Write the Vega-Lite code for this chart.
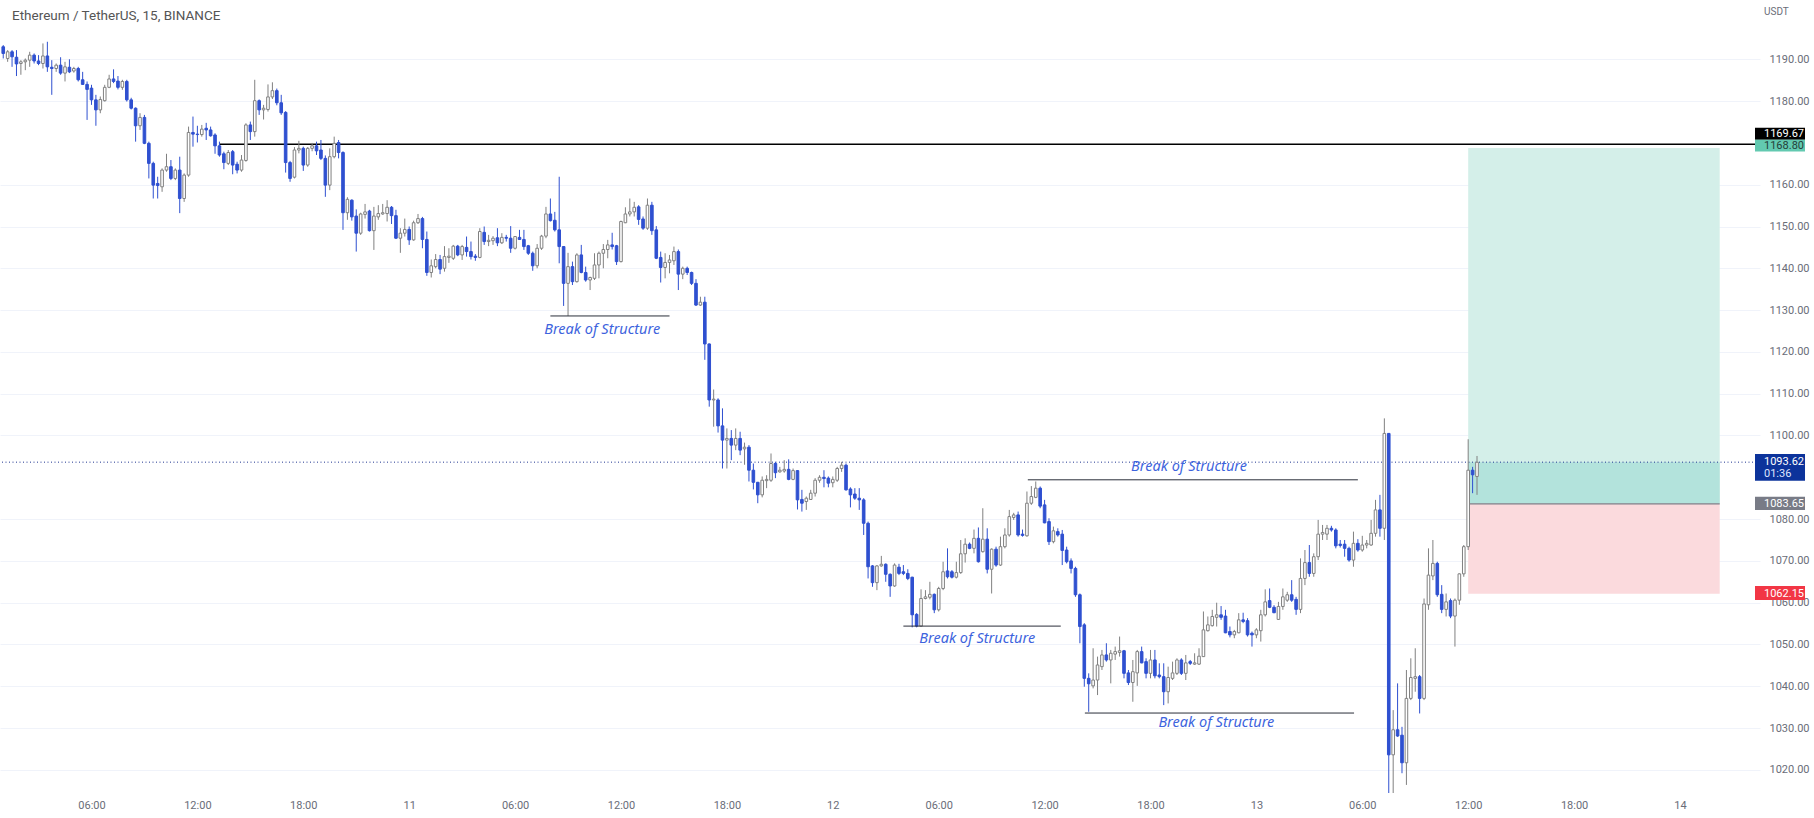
{
"$schema": "https://vega.github.io/schema/vega-lite/v6.json",
"width": 1760, "height": 793,
"autosize": {"type": "none"},
"padding": {"left": 0, "top": 0, "right": 54, "bottom": 25},
"background": "#ffffff",
"config": {"view": {"stroke": null}, "font": "Roboto"},
"datasets": {
"candles": [
{"t":"2022-07-10T01:00:00Z","o":1193.0,"h":1193.4,"l":1190.2,"c":1191.4},
{"t":"2022-07-10T01:15:00Z","o":1190.2,"h":1192.2,"l":1189.4,"c":1191.8},
{"t":"2022-07-10T01:30:00Z","o":1191.8,"h":1192.2,"l":1188.2,"c":1190.6},
{"t":"2022-07-10T01:45:00Z","o":1190.5,"h":1192.2,"l":1186.0,"c":1188.9},
{"t":"2022-07-10T02:00:00Z","o":1189.0,"h":1189.8,"l":1186.3,"c":1189.4},
{"t":"2022-07-10T02:15:00Z","o":1189.4,"h":1190.2,"l":1187.4,"c":1189.8},
{"t":"2022-07-10T02:30:00Z","o":1189.8,"h":1191.8,"l":1188.2,"c":1191.0},
{"t":"2022-07-10T02:45:00Z","o":1191.0,"h":1191.4,"l":1189.0,"c":1189.6},
{"t":"2022-07-10T03:00:00Z","o":1189.6,"h":1191.0,"l":1188.6,"c":1189.0},
{"t":"2022-07-10T03:15:00Z","o":1189.0,"h":1193.8,"l":1187.8,"c":1190.8},
{"t":"2022-07-10T03:30:00Z","o":1190.8,"h":1194.2,"l":1187.0,"c":1188.2},
{"t":"2022-07-10T03:45:00Z","o":1188.1,"h":1189.8,"l":1181.5,"c":1187.8},
{"t":"2022-07-10T04:00:00Z","o":1187.8,"h":1189.0,"l":1187.0,"c":1188.6},
{"t":"2022-07-10T04:15:00Z","o":1188.6,"h":1190.5,"l":1186.3,"c":1186.7},
{"t":"2022-07-10T04:30:00Z","o":1186.7,"h":1189.4,"l":1184.7,"c":1188.2},
{"t":"2022-07-10T04:45:00Z","o":1188.1,"h":1190.0,"l":1186.7,"c":1187.0},
{"t":"2022-07-10T05:00:00Z","o":1187.2,"h":1188.2,"l":1186.8,"c":1187.8},
{"t":"2022-07-10T05:15:00Z","o":1187.8,"h":1188.2,"l":1184.7,"c":1185.1},
{"t":"2022-07-10T05:30:00Z","o":1185.1,"h":1187.0,"l":1183.9,"c":1184.0},
{"t":"2022-07-10T05:45:00Z","o":1184.0,"h":1184.7,"l":1175.5,"c":1182.8},
{"t":"2022-07-10T06:00:00Z","o":1183.1,"h":1183.9,"l":1179.1,"c":1180.3},
{"t":"2022-07-10T06:15:00Z","o":1180.3,"h":1181.5,"l":1174.1,"c":1177.9},
{"t":"2022-07-10T06:30:00Z","o":1177.9,"h":1181.1,"l":1177.1,"c":1180.4},
{"t":"2022-07-10T06:45:00Z","o":1180.1,"h":1183.9,"l":1179.9,"c":1183.3},
{"t":"2022-07-10T07:00:00Z","o":1183.3,"h":1186.3,"l":1183.1,"c":1185.3},
{"t":"2022-07-10T07:15:00Z","o":1185.3,"h":1187.6,"l":1184.3,"c":1184.7},
{"t":"2022-07-10T07:30:00Z","o":1184.8,"h":1186.0,"l":1182.8,"c":1183.3},
{"t":"2022-07-10T07:45:00Z","o":1183.3,"h":1185.1,"l":1182.7,"c":1184.7},
{"t":"2022-07-10T08:00:00Z","o":1184.7,"h":1185.1,"l":1179.9,"c":1180.3},
{"t":"2022-07-10T08:15:00Z","o":1180.3,"h":1180.8,"l":1178.0,"c":1178.3},
{"t":"2022-07-10T08:30:00Z","o":1178.3,"h":1178.5,"l":1170.3,"c":1174.1},
{"t":"2022-07-10T08:45:00Z","o":1174.1,"h":1177.1,"l":1173.1,"c":1176.1},
{"t":"2022-07-10T09:00:00Z","o":1176.1,"h":1176.7,"l":1169.7,"c":1169.9},
{"t":"2022-07-10T09:15:00Z","o":1169.9,"h":1170.3,"l":1161.5,"c":1165.1},
{"t":"2022-07-10T09:30:00Z","o":1165.1,"h":1165.5,"l":1156.7,"c":1159.9},
{"t":"2022-07-10T09:45:00Z","o":1160.3,"h":1161.9,"l":1156.7,"c":1159.8},
{"t":"2022-07-10T10:00:00Z","o":1159.5,"h":1163.9,"l":1158.3,"c":1163.5},
{"t":"2022-07-10T10:15:00Z","o":1163.5,"h":1167.4,"l":1163.1,"c":1164.3},
{"t":"2022-07-10T10:30:00Z","o":1164.3,"h":1165.9,"l":1161.1,"c":1161.5},
{"t":"2022-07-10T10:45:00Z","o":1161.5,"h":1163.9,"l":1161.1,"c":1163.5},
{"t":"2022-07-10T11:00:00Z","o":1163.5,"h":1166.7,"l":1153.2,"c":1156.7},
{"t":"2022-07-10T11:15:00Z","o":1156.7,"h":1162.7,"l":1155.9,"c":1162.3},
{"t":"2022-07-10T11:30:00Z","o":1162.3,"h":1173.9,"l":1161.9,"c":1172.5},
{"t":"2022-07-10T11:45:00Z","o":1172.5,"h":1176.3,"l":1169.1,"c":1172.1},
{"t":"2022-07-10T12:00:00Z","o":1172.1,"h":1174.1,"l":1170.1,"c":1172.0},
{"t":"2022-07-10T12:15:00Z","o":1172.0,"h":1174.3,"l":1171.5,"c":1173.3},
{"t":"2022-07-10T12:30:00Z","o":1173.5,"h":1174.8,"l":1170.7,"c":1173.1},
{"t":"2022-07-10T12:45:00Z","o":1173.1,"h":1173.9,"l":1171.5,"c":1171.7},
{"t":"2022-07-10T13:00:00Z","o":1171.9,"h":1172.3,"l":1167.4,"c":1169.3},
{"t":"2022-07-10T13:15:00Z","o":1169.3,"h":1170.3,"l":1166.7,"c":1167.1},
{"t":"2022-07-10T13:30:00Z","o":1167.4,"h":1167.9,"l":1163.7,"c":1165.3},
{"t":"2022-07-10T13:45:00Z","o":1165.1,"h":1168.3,"l":1164.7,"c":1167.7},
{"t":"2022-07-10T14:00:00Z","o":1167.9,"h":1168.3,"l":1162.5,"c":1164.7},
{"t":"2022-07-10T14:15:00Z","o":1164.9,"h":1165.5,"l":1162.7,"c":1163.5},
{"t":"2022-07-10T14:30:00Z","o":1163.5,"h":1167.1,"l":1163.1,"c":1165.9},
{"t":"2022-07-10T14:45:00Z","o":1165.8,"h":1174.7,"l":1165.5,"c":1174.3},
{"t":"2022-07-10T15:00:00Z","o":1174.3,"h":1175.1,"l":1170.7,"c":1172.7},
{"t":"2022-07-10T15:15:00Z","o":1172.7,"h":1185.1,"l":1171.5,"c":1180.1},
{"t":"2022-07-10T15:30:00Z","o":1180.1,"h":1180.4,"l":1176.7,"c":1177.9},
{"t":"2022-07-10T15:45:00Z","o":1177.9,"h":1179.1,"l":1175.6,"c":1178.3},
{"t":"2022-07-10T16:00:00Z","o":1178.0,"h":1184.0,"l":1177.5,"c":1181.0},
{"t":"2022-07-10T16:15:00Z","o":1181.0,"h":1184.5,"l":1180.5,"c":1182.5},
{"t":"2022-07-10T16:30:00Z","o":1182.5,"h":1183.0,"l":1179.0,"c":1179.6},
{"t":"2022-07-10T16:45:00Z","o":1179.6,"h":1181.5,"l":1176.7,"c":1177.2},
{"t":"2022-07-10T17:00:00Z","o":1177.3,"h":1177.6,"l":1162.9,"c":1165.3},
{"t":"2022-07-10T17:15:00Z","o":1165.3,"h":1165.7,"l":1160.7,"c":1161.5},
{"t":"2022-07-10T17:30:00Z","o":1161.8,"h":1169.0,"l":1161.5,"c":1168.3},
{"t":"2022-07-10T17:45:00Z","o":1168.3,"h":1170.5,"l":1167.5,"c":1168.7},
{"t":"2022-07-10T18:00:00Z","o":1168.7,"h":1169.1,"l":1163.3,"c":1164.7},
{"t":"2022-07-10T18:15:00Z","o":1164.7,"h":1169.0,"l":1164.3,"c":1168.7},
{"t":"2022-07-10T18:30:00Z","o":1168.7,"h":1170.0,"l":1168.0,"c":1169.3},
{"t":"2022-07-10T18:45:00Z","o":1169.3,"h":1170.3,"l":1167.1,"c":1168.1},
{"t":"2022-07-10T19:00:00Z","o":1168.3,"h":1170.7,"l":1165.9,"c":1166.3},
{"t":"2022-07-10T19:15:00Z","o":1166.3,"h":1167.0,"l":1157.1,"c":1159.9},
{"t":"2022-07-10T19:30:00Z","o":1159.9,"h":1168.7,"l":1158.7,"c":1166.7},
{"t":"2022-07-10T19:45:00Z","o":1166.7,"h":1171.5,"l":1166.3,"c":1169.9},
{"t":"2022-07-10T20:00:00Z","o":1170.1,"h":1170.7,"l":1166.3,"c":1167.7},
{"t":"2022-07-10T20:15:00Z","o":1167.7,"h":1168.0,"l":1149.2,"c":1153.3},
{"t":"2022-07-10T20:30:00Z","o":1153.3,"h":1157.0,"l":1151.6,"c":1156.5},
{"t":"2022-07-10T20:45:00Z","o":1156.3,"h":1156.5,"l":1151.4,"c":1152.3},
{"t":"2022-07-10T21:00:00Z","o":1152.5,"h":1154.1,"l":1144.0,"c":1148.4},
{"t":"2022-07-10T21:15:00Z","o":1148.4,"h":1153.3,"l":1148.0,"c":1153.0},
{"t":"2022-07-10T21:30:00Z","o":1152.9,"h":1155.4,"l":1151.9,"c":1153.5},
{"t":"2022-07-10T21:45:00Z","o":1153.7,"h":1154.0,"l":1148.8,"c":1149.0},
{"t":"2022-07-10T22:00:00Z","o":1149.0,"h":1154.7,"l":1144.4,"c":1152.5},
{"t":"2022-07-10T22:15:00Z","o":1152.3,"h":1155.1,"l":1151.6,"c":1153.1},
{"t":"2022-07-10T22:30:00Z","o":1153.0,"h":1155.4,"l":1152.8,"c":1153.3},
{"t":"2022-07-10T22:45:00Z","o":1153.1,"h":1156.3,"l":1151.2,"c":1154.6},
{"t":"2022-07-10T23:00:00Z","o":1154.6,"h":1154.9,"l":1150.6,"c":1152.6},
{"t":"2022-07-10T23:15:00Z","o":1152.6,"h":1154.0,"l":1147.0,"c":1147.2},
{"t":"2022-07-10T23:30:00Z","o":1147.2,"h":1149.6,"l":1143.7,"c":1148.4},
{"t":"2022-07-10T23:45:00Z","o":1148.4,"h":1151.9,"l":1147.6,"c":1149.3},
{"t":"2022-07-11T00:00:00Z","o":1149.3,"h":1150.0,"l":1145.6,"c":1146.8},
{"t":"2022-07-11T00:15:00Z","o":1146.8,"h":1151.4,"l":1146.6,"c":1150.9},
{"t":"2022-07-11T00:30:00Z","o":1150.9,"h":1153.0,"l":1150.6,"c":1151.9},
{"t":"2022-07-11T00:45:00Z","o":1151.9,"h":1152.3,"l":1144.8,"c":1146.9},
{"t":"2022-07-11T01:00:00Z","o":1146.9,"h":1148.8,"l":1138.2,"c":1139.0},
{"t":"2022-07-11T01:15:00Z","o":1139.0,"h":1142.1,"l":1137.8,"c":1140.6},
{"t":"2022-07-11T01:30:00Z","o":1140.4,"h":1143.4,"l":1140.0,"c":1142.1},
{"t":"2022-07-11T01:45:00Z","o":1142.1,"h":1143.2,"l":1138.6,"c":1139.8},
{"t":"2022-07-11T02:00:00Z","o":1140.0,"h":1145.3,"l":1139.2,"c":1142.8},
{"t":"2022-07-11T02:15:00Z","o":1142.6,"h":1144.8,"l":1141.3,"c":1142.9},
{"t":"2022-07-11T02:30:00Z","o":1142.4,"h":1145.6,"l":1142.0,"c":1145.3},
{"t":"2022-07-11T02:45:00Z","o":1145.3,"h":1145.6,"l":1142.9,"c":1143.2},
{"t":"2022-07-11T03:00:00Z","o":1143.2,"h":1145.6,"l":1142.0,"c":1145.2},
{"t":"2022-07-11T03:15:00Z","o":1145.0,"h":1147.6,"l":1142.8,"c":1144.0},
{"t":"2022-07-11T03:30:00Z","o":1144.0,"h":1146.4,"l":1142.1,"c":1142.8},
{"t":"2022-07-11T03:45:00Z","o":1142.9,"h":1143.4,"l":1141.8,"c":1142.6},
{"t":"2022-07-11T04:00:00Z","o":1142.6,"h":1149.6,"l":1142.4,"c":1148.8},
{"t":"2022-07-11T04:15:00Z","o":1148.6,"h":1150.0,"l":1145.6,"c":1146.4},
{"t":"2022-07-11T04:30:00Z","o":1146.4,"h":1148.0,"l":1145.3,"c":1146.7},
{"t":"2022-07-11T04:45:00Z","o":1146.6,"h":1147.7,"l":1145.6,"c":1147.2},
{"t":"2022-07-11T05:00:00Z","o":1147.3,"h":1149.6,"l":1145.3,"c":1146.1},
{"t":"2022-07-11T05:15:00Z","o":1146.1,"h":1148.4,"l":1145.8,"c":1147.4},
{"t":"2022-07-11T05:30:00Z","o":1147.4,"h":1148.0,"l":1146.4,"c":1147.2},
{"t":"2022-07-11T05:45:00Z","o":1147.2,"h":1150.1,"l":1143.7,"c":1144.8},
{"t":"2022-07-11T06:00:00Z","o":1144.8,"h":1147.7,"l":1144.5,"c":1147.6},
{"t":"2022-07-11T06:15:00Z","o":1147.4,"h":1149.2,"l":1146.8,"c":1146.9},
{"t":"2022-07-11T06:30:00Z","o":1146.9,"h":1149.2,"l":1144.4,"c":1145.2},
{"t":"2022-07-11T06:45:00Z","o":1145.4,"h":1145.6,"l":1143.2,"c":1143.6},
{"t":"2022-07-11T07:00:00Z","o":1143.6,"h":1144.0,"l":1139.4,"c":1140.6},
{"t":"2022-07-11T07:15:00Z","o":1140.6,"h":1145.8,"l":1140.0,"c":1144.8},
{"t":"2022-07-11T07:30:00Z","o":1144.8,"h":1148.0,"l":1144.4,"c":1147.7},
{"t":"2022-07-11T07:45:00Z","o":1147.7,"h":1154.7,"l":1147.2,"c":1153.0},
{"t":"2022-07-11T08:00:00Z","o":1153.0,"h":1156.7,"l":1151.2,"c":1151.4},
{"t":"2022-07-11T08:15:00Z","o":1151.5,"h":1153.5,"l":1148.8,"c":1149.2},
{"t":"2022-07-11T08:30:00Z","o":1149.2,"h":1161.9,"l":1141.2,"c":1145.2},
{"t":"2022-07-11T08:45:00Z","o":1145.2,"h":1145.3,"l":1131.0,"c":1136.4},
{"t":"2022-07-11T09:00:00Z","o":1136.4,"h":1143.7,"l":1128.6,"c":1140.4},
{"t":"2022-07-11T09:15:00Z","o":1140.4,"h":1141.6,"l":1136.0,"c":1136.8},
{"t":"2022-07-11T09:30:00Z","o":1136.8,"h":1143.6,"l":1136.6,"c":1143.2},
{"t":"2022-07-11T09:45:00Z","o":1143.2,"h":1145.6,"l":1138.8,"c":1139.0},
{"t":"2022-07-11T10:00:00Z","o":1139.0,"h":1140.4,"l":1136.8,"c":1137.2},
{"t":"2022-07-11T10:15:00Z","o":1137.2,"h":1138.0,"l":1134.8,"c":1137.8},
{"t":"2022-07-11T10:30:00Z","o":1137.6,"h":1143.6,"l":1137.2,"c":1140.8},
{"t":"2022-07-11T10:45:00Z","o":1140.8,"h":1144.0,"l":1137.6,"c":1143.6},
{"t":"2022-07-11T11:00:00Z","o":1143.6,"h":1145.8,"l":1140.0,"c":1144.5},
{"t":"2022-07-11T11:15:00Z","o":1144.5,"h":1146.8,"l":1142.4,"c":1145.6},
{"t":"2022-07-11T11:30:00Z","o":1145.6,"h":1148.5,"l":1144.5,"c":1145.2},
{"t":"2022-07-11T11:45:00Z","o":1145.4,"h":1145.6,"l":1140.8,"c":1141.6},
{"t":"2022-07-11T12:00:00Z","o":1141.6,"h":1151.4,"l":1141.4,"c":1151.2},
{"t":"2022-07-11T12:15:00Z","o":1150.9,"h":1154.6,"l":1150.8,"c":1153.0},
{"t":"2022-07-11T12:30:00Z","o":1153.0,"h":1156.7,"l":1152.4,"c":1153.5},
{"t":"2022-07-11T12:45:00Z","o":1153.5,"h":1155.9,"l":1152.4,"c":1154.6},
{"t":"2022-07-11T13:00:00Z","o":1154.7,"h":1155.1,"l":1150.4,"c":1151.7},
{"t":"2022-07-11T13:15:00Z","o":1151.8,"h":1152.4,"l":1149.2,"c":1149.6},
{"t":"2022-07-11T13:30:00Z","o":1149.6,"h":1156.7,"l":1149.2,"c":1155.1},
{"t":"2022-07-11T13:45:00Z","o":1155.1,"h":1155.9,"l":1148.0,"c":1149.0},
{"t":"2022-07-11T14:00:00Z","o":1149.2,"h":1150.1,"l":1142.2,"c":1142.4},
{"t":"2022-07-11T14:15:00Z","o":1142.6,"h":1144.0,"l":1136.6,"c":1140.2},
{"t":"2022-07-11T14:30:00Z","o":1140.2,"h":1143.6,"l":1137.6,"c":1141.4},
{"t":"2022-07-11T14:45:00Z","o":1141.4,"h":1143.2,"l":1138.8,"c":1142.0},
{"t":"2022-07-11T15:00:00Z","o":1141.8,"h":1145.2,"l":1140.8,"c":1144.0},
{"t":"2022-07-11T15:15:00Z","o":1144.0,"h":1144.5,"l":1134.8,"c":1138.6},
{"t":"2022-07-11T15:30:00Z","o":1138.6,"h":1140.4,"l":1137.4,"c":1140.0},
{"t":"2022-07-11T15:45:00Z","o":1140.0,"h":1140.4,"l":1138.4,"c":1139.0},
{"t":"2022-07-11T16:00:00Z","o":1139.0,"h":1139.2,"l":1136.0,"c":1136.4},
{"t":"2022-07-11T16:15:00Z","o":1136.4,"h":1137.4,"l":1131.0,"c":1131.2},
{"t":"2022-07-11T16:30:00Z","o":1131.2,"h":1133.2,"l":1131.0,"c":1131.9},
{"t":"2022-07-11T16:45:00Z","o":1131.9,"h":1133.2,"l":1118.1,"c":1121.9},
{"t":"2022-07-11T17:00:00Z","o":1121.9,"h":1122.0,"l":1106.9,"c":1108.5},
{"t":"2022-07-11T17:15:00Z","o":1108.5,"h":1111.0,"l":1102.1,"c":1108.7},
{"t":"2022-07-11T17:30:00Z","o":1108.5,"h":1108.9,"l":1100.7,"c":1102.3},
{"t":"2022-07-11T17:45:00Z","o":1102.3,"h":1106.5,"l":1092.1,"c":1098.9},
{"t":"2022-07-11T18:00:00Z","o":1098.9,"h":1101.7,"l":1092.1,"c":1099.3},
{"t":"2022-07-11T18:15:00Z","o":1099.3,"h":1101.3,"l":1094.1,"c":1097.7},
{"t":"2022-07-11T18:30:00Z","o":1097.7,"h":1101.7,"l":1096.5,"c":1099.3},
{"t":"2022-07-11T18:45:00Z","o":1099.3,"h":1100.9,"l":1095.3,"c":1096.5},
{"t":"2022-07-11T19:00:00Z","o":1096.8,"h":1098.3,"l":1093.0,"c":1097.2},
{"t":"2022-07-11T19:15:00Z","o":1097.2,"h":1097.7,"l":1089.0,"c":1091.7},
{"t":"2022-07-11T19:30:00Z","o":1091.7,"h":1093.3,"l":1087.1,"c":1088.8},
{"t":"2022-07-11T19:45:00Z","o":1088.8,"h":1088.9,"l":1083.8,"c":1085.8},
{"t":"2022-07-11T20:00:00Z","o":1085.8,"h":1090.2,"l":1085.2,"c":1089.3},
{"t":"2022-07-11T20:15:00Z","o":1089.2,"h":1090.5,"l":1087.4,"c":1089.5},
{"t":"2022-07-11T20:30:00Z","o":1089.3,"h":1095.7,"l":1088.9,"c":1093.3},
{"t":"2022-07-11T20:45:00Z","o":1093.3,"h":1093.7,"l":1089.8,"c":1091.1},
{"t":"2022-07-11T21:00:00Z","o":1091.3,"h":1092.5,"l":1091.1,"c":1091.7},
{"t":"2022-07-11T21:15:00Z","o":1091.5,"h":1094.1,"l":1091.1,"c":1091.9},
{"t":"2022-07-11T21:30:00Z","o":1091.9,"h":1094.3,"l":1089.3,"c":1089.5},
{"t":"2022-07-11T21:45:00Z","o":1089.5,"h":1092.1,"l":1089.3,"c":1091.6},
{"t":"2022-07-11T22:00:00Z","o":1091.6,"h":1091.7,"l":1082.3,"c":1084.6},
{"t":"2022-07-11T22:15:00Z","o":1084.7,"h":1087.0,"l":1081.8,"c":1083.8},
{"t":"2022-07-11T22:30:00Z","o":1084.2,"h":1085.4,"l":1082.2,"c":1085.0},
{"t":"2022-07-11T22:45:00Z","o":1084.7,"h":1087.0,"l":1084.6,"c":1086.2},
{"t":"2022-07-11T23:00:00Z","o":1086.2,"h":1089.8,"l":1085.4,"c":1089.3},
{"t":"2022-07-11T23:15:00Z","o":1089.3,"h":1090.5,"l":1088.7,"c":1090.0},
{"t":"2022-07-11T23:30:00Z","o":1090.0,"h":1091.7,"l":1087.6,"c":1089.7},
{"t":"2022-07-11T23:45:00Z","o":1089.8,"h":1090.2,"l":1087.6,"c":1088.6},
{"t":"2022-07-12T00:00:00Z","o":1088.7,"h":1090.2,"l":1087.6,"c":1089.5},
{"t":"2022-07-12T00:15:00Z","o":1089.3,"h":1092.5,"l":1088.9,"c":1092.1},
{"t":"2022-07-12T00:30:00Z","o":1092.1,"h":1093.7,"l":1091.3,"c":1092.9},
{"t":"2022-07-12T00:45:00Z","o":1092.9,"h":1093.3,"l":1086.8,"c":1087.0},
{"t":"2022-07-12T01:00:00Z","o":1087.2,"h":1087.6,"l":1082.8,"c":1085.8},
{"t":"2022-07-12T01:15:00Z","o":1086.0,"h":1087.4,"l":1084.6,"c":1085.0},
{"t":"2022-07-12T01:30:00Z","o":1085.0,"h":1087.4,"l":1082.2,"c":1084.6},
{"t":"2022-07-12T01:45:00Z","o":1084.6,"h":1085.0,"l":1076.2,"c":1079.0},
{"t":"2022-07-12T02:00:00Z","o":1079.0,"h":1079.4,"l":1065.8,"c":1068.6},
{"t":"2022-07-12T02:15:00Z","o":1068.8,"h":1069.0,"l":1063.8,"c":1064.8},
{"t":"2022-07-12T02:30:00Z","o":1064.8,"h":1069.0,"l":1063.0,"c":1068.8},
{"t":"2022-07-12T02:45:00Z","o":1068.8,"h":1071.2,"l":1068.6,"c":1069.2},
{"t":"2022-07-12T03:00:00Z","o":1069.2,"h":1069.4,"l":1065.0,"c":1066.8},
{"t":"2022-07-12T03:15:00Z","o":1066.8,"h":1067.0,"l":1061.4,"c":1064.0},
{"t":"2022-07-12T03:30:00Z","o":1064.0,"h":1069.4,"l":1063.8,"c":1069.0},
{"t":"2022-07-12T03:45:00Z","o":1068.5,"h":1069.3,"l":1066.6,"c":1067.0},
{"t":"2022-07-12T04:00:00Z","o":1067.4,"h":1069.0,"l":1066.6,"c":1067.0},
{"t":"2022-07-12T04:15:00Z","o":1067.0,"h":1068.0,"l":1065.4,"c":1065.8},
{"t":"2022-07-12T04:30:00Z","o":1066.1,"h":1066.2,"l":1054.1,"c":1057.1},
{"t":"2022-07-12T04:45:00Z","o":1057.2,"h":1057.5,"l":1054.1,"c":1054.4},
{"t":"2022-07-12T05:00:00Z","o":1054.4,"h":1063.2,"l":1054.3,"c":1061.0},
{"t":"2022-07-12T05:15:00Z","o":1061.0,"h":1063.0,"l":1060.8,"c":1061.4},
{"t":"2022-07-12T05:30:00Z","o":1061.3,"h":1065.0,"l":1060.8,"c":1062.0},
{"t":"2022-07-12T05:45:00Z","o":1062.0,"h":1062.2,"l":1057.5,"c":1058.3},
{"t":"2022-07-12T06:00:00Z","o":1058.3,"h":1063.8,"l":1057.9,"c":1063.4},
{"t":"2022-07-12T06:15:00Z","o":1063.4,"h":1069.8,"l":1063.0,"c":1067.4},
{"t":"2022-07-12T06:30:00Z","o":1067.6,"h":1073.0,"l":1065.8,"c":1066.2},
{"t":"2022-07-12T06:45:00Z","o":1067.4,"h":1067.8,"l":1065.8,"c":1066.1},
{"t":"2022-07-12T07:00:00Z","o":1066.1,"h":1069.8,"l":1065.8,"c":1067.2},
{"t":"2022-07-12T07:15:00Z","o":1067.2,"h":1075.0,"l":1066.9,"c":1071.7},
{"t":"2022-07-12T07:30:00Z","o":1071.7,"h":1075.4,"l":1069.6,"c":1074.0},
{"t":"2022-07-12T07:45:00Z","o":1074.0,"h":1074.4,"l":1072.8,"c":1073.0},
{"t":"2022-07-12T08:00:00Z","o":1073.0,"h":1077.5,"l":1071.8,"c":1075.4},
{"t":"2022-07-12T08:15:00Z","o":1075.4,"h":1078.0,"l":1069.6,"c":1069.8},
{"t":"2022-07-12T08:30:00Z","o":1072.2,"h":1082.6,"l":1072.0,"c":1075.2},
{"t":"2022-07-12T08:45:00Z","o":1075.2,"h":1077.8,"l":1067.0,"c":1068.0},
{"t":"2022-07-12T09:00:00Z","o":1068.0,"h":1073.0,"l":1062.2,"c":1072.8},
{"t":"2022-07-12T09:15:00Z","o":1072.8,"h":1073.4,"l":1068.6,"c":1069.0},
{"t":"2022-07-12T09:30:00Z","o":1069.0,"h":1075.8,"l":1068.8,"c":1073.4},
{"t":"2022-07-12T09:45:00Z","o":1073.4,"h":1077.8,"l":1073.0,"c":1076.2},
{"t":"2022-07-12T10:00:00Z","o":1076.2,"h":1082.2,"l":1075.8,"c":1080.6},
{"t":"2022-07-12T10:15:00Z","o":1080.4,"h":1081.5,"l":1079.8,"c":1081.0},
{"t":"2022-07-12T10:30:00Z","o":1081.0,"h":1081.8,"l":1075.8,"c":1076.2},
{"t":"2022-07-12T10:45:00Z","o":1076.4,"h":1077.5,"l":1075.8,"c":1076.1},
{"t":"2022-07-12T11:00:00Z","o":1076.0,"h":1086.6,"l":1075.8,"c":1083.8},
{"t":"2022-07-12T11:15:00Z","o":1083.8,"h":1087.9,"l":1083.4,"c":1085.4},
{"t":"2022-07-12T11:30:00Z","o":1085.2,"h":1089.0,"l":1085.0,"c":1087.4},
{"t":"2022-07-12T11:45:00Z","o":1087.4,"h":1087.8,"l":1082.6,"c":1083.1},
{"t":"2022-07-12T12:00:00Z","o":1083.4,"h":1084.6,"l":1079.0,"c":1079.1},
{"t":"2022-07-12T12:15:00Z","o":1079.4,"h":1080.2,"l":1073.8,"c":1074.6},
{"t":"2022-07-12T12:30:00Z","o":1074.6,"h":1078.2,"l":1074.2,"c":1077.2},
{"t":"2022-07-12T12:45:00Z","o":1077.0,"h":1077.8,"l":1075.8,"c":1076.2},
{"t":"2022-07-12T13:00:00Z","o":1076.4,"h":1077.4,"l":1069.0,"c":1072.5},
{"t":"2022-07-12T13:15:00Z","o":1072.6,"h":1073.4,"l":1069.4,"c":1069.8},
{"t":"2022-07-12T13:30:00Z","o":1070.0,"h":1070.6,"l":1067.0,"c":1068.2},
{"t":"2022-07-12T13:45:00Z","o":1068.2,"h":1068.6,"l":1061.4,"c":1061.9},
{"t":"2022-07-12T14:00:00Z","o":1061.9,"h":1062.2,"l":1050.3,"c":1054.3},
{"t":"2022-07-12T14:15:00Z","o":1054.7,"h":1055.1,"l":1039.9,"c":1041.9},
{"t":"2022-07-12T14:30:00Z","o":1041.9,"h":1043.1,"l":1033.9,"c":1040.6},
{"t":"2022-07-12T14:45:00Z","o":1040.1,"h":1049.1,"l":1039.5,"c":1041.5},
{"t":"2022-07-12T15:00:00Z","o":1041.5,"h":1047.1,"l":1037.9,"c":1045.1},
{"t":"2022-07-12T15:15:00Z","o":1044.7,"h":1048.7,"l":1043.9,"c":1047.5},
{"t":"2022-07-12T15:30:00Z","o":1047.5,"h":1050.3,"l":1045.9,"c":1046.3},
{"t":"2022-07-12T15:45:00Z","o":1046.3,"h":1048.7,"l":1040.7,"c":1047.9},
{"t":"2022-07-12T16:00:00Z","o":1047.7,"h":1049.5,"l":1046.3,"c":1048.3},
{"t":"2022-07-12T16:15:00Z","o":1048.1,"h":1051.9,"l":1047.1,"c":1048.5},
{"t":"2022-07-12T16:30:00Z","o":1048.5,"h":1048.7,"l":1041.9,"c":1043.1},
{"t":"2022-07-12T16:45:00Z","o":1043.2,"h":1043.9,"l":1040.3,"c":1040.9},
{"t":"2022-07-12T17:00:00Z","o":1040.9,"h":1046.3,"l":1036.3,"c":1043.5},
{"t":"2022-07-12T17:15:00Z","o":1043.2,"h":1048.7,"l":1040.1,"c":1048.3},
{"t":"2022-07-12T17:30:00Z","o":1048.3,"h":1049.5,"l":1045.5,"c":1045.6},
{"t":"2022-07-12T17:45:00Z","o":1045.9,"h":1046.7,"l":1041.9,"c":1043.1},
{"t":"2022-07-12T18:00:00Z","o":1043.1,"h":1048.7,"l":1041.9,"c":1046.3},
{"t":"2022-07-12T18:15:00Z","o":1046.3,"h":1048.7,"l":1041.9,"c":1042.5},
{"t":"2022-07-12T18:30:00Z","o":1042.7,"h":1045.5,"l":1041.9,"c":1042.3},
{"t":"2022-07-12T18:45:00Z","o":1042.3,"h":1045.5,"l":1035.5,"c":1038.7},
{"t":"2022-07-12T19:00:00Z","o":1038.7,"h":1044.7,"l":1035.9,"c":1042.1},
{"t":"2022-07-12T19:15:00Z","o":1041.9,"h":1045.9,"l":1041.5,"c":1043.2},
{"t":"2022-07-12T19:30:00Z","o":1043.1,"h":1046.7,"l":1042.7,"c":1046.3},
{"t":"2022-07-12T19:45:00Z","o":1046.3,"h":1046.7,"l":1042.7,"c":1043.1},
{"t":"2022-07-12T20:00:00Z","o":1043.1,"h":1047.5,"l":1041.5,"c":1045.6},
{"t":"2022-07-12T20:15:00Z","o":1045.9,"h":1046.3,"l":1045.1,"c":1045.5},
{"t":"2022-07-12T20:30:00Z","o":1045.3,"h":1047.9,"l":1045.1,"c":1045.6},
{"t":"2022-07-12T20:45:00Z","o":1045.3,"h":1049.1,"l":1045.1,"c":1047.2},
{"t":"2022-07-12T21:00:00Z","o":1047.1,"h":1057.9,"l":1047.1,"c":1053.5},
{"t":"2022-07-12T21:15:00Z","o":1053.3,"h":1056.7,"l":1053.1,"c":1054.7},
{"t":"2022-07-12T21:30:00Z","o":1054.5,"h":1058.3,"l":1054.3,"c":1056.7},
{"t":"2022-07-12T21:45:00Z","o":1056.5,"h":1060.0,"l":1054.3,"c":1057.1},
{"t":"2022-07-12T22:00:00Z","o":1057.1,"h":1059.2,"l":1055.9,"c":1056.5},
{"t":"2022-07-12T22:15:00Z","o":1056.8,"h":1058.3,"l":1052.7,"c":1052.8},
{"t":"2022-07-12T22:30:00Z","o":1053.1,"h":1054.3,"l":1051.7,"c":1052.3},
{"t":"2022-07-12T22:45:00Z","o":1052.3,"h":1053.5,"l":1051.5,"c":1053.1},
{"t":"2022-07-12T23:00:00Z","o":1052.8,"h":1057.5,"l":1052.7,"c":1055.9},
{"t":"2022-07-12T23:15:00Z","o":1055.9,"h":1057.6,"l":1055.1,"c":1055.5},
{"t":"2022-07-12T23:30:00Z","o":1055.7,"h":1056.3,"l":1051.9,"c":1052.3},
{"t":"2022-07-12T23:45:00Z","o":1052.7,"h":1053.1,"l":1049.5,"c":1052.3},
{"t":"2022-07-13T00:00:00Z","o":1052.3,"h":1053.9,"l":1051.5,"c":1053.5},
{"t":"2022-07-13T00:15:00Z","o":1053.3,"h":1058.3,"l":1050.7,"c":1057.1},
{"t":"2022-07-13T00:30:00Z","o":1057.1,"h":1063.2,"l":1056.7,"c":1060.2},
{"t":"2022-07-13T00:45:00Z","o":1060.5,"h":1063.4,"l":1058.7,"c":1058.9},
{"t":"2022-07-13T01:00:00Z","o":1058.9,"h":1059.4,"l":1057.5,"c":1057.6},
{"t":"2022-07-13T01:15:00Z","o":1056.0,"h":1060.2,"l":1055.9,"c":1059.1},
{"t":"2022-07-13T01:30:00Z","o":1059.1,"h":1063.4,"l":1058.3,"c":1061.4},
{"t":"2022-07-13T01:45:00Z","o":1060.6,"h":1062.6,"l":1060.2,"c":1061.9},
{"t":"2022-07-13T02:00:00Z","o":1061.9,"h":1065.4,"l":1060.2,"c":1060.6},
{"t":"2022-07-13T02:15:00Z","o":1060.8,"h":1061.4,"l":1057.1,"c":1058.4},
{"t":"2022-07-13T02:30:00Z","o":1058.4,"h":1070.6,"l":1057.5,"c":1065.8},
{"t":"2022-07-13T02:45:00Z","o":1065.8,"h":1072.6,"l":1064.2,"c":1069.6},
{"t":"2022-07-13T03:00:00Z","o":1069.6,"h":1073.8,"l":1066.2,"c":1067.0},
{"t":"2022-07-13T03:15:00Z","o":1067.0,"h":1071.8,"l":1066.2,"c":1071.0},
{"t":"2022-07-13T03:30:00Z","o":1071.0,"h":1079.8,"l":1070.2,"c":1076.4},
{"t":"2022-07-13T03:45:00Z","o":1076.4,"h":1078.6,"l":1075.0,"c":1076.8},
{"t":"2022-07-13T04:00:00Z","o":1076.4,"h":1078.6,"l":1075.0,"c":1077.8},
{"t":"2022-07-13T04:15:00Z","o":1077.8,"h":1078.4,"l":1077.0,"c":1077.4},
{"t":"2022-07-13T04:30:00Z","o":1077.4,"h":1077.8,"l":1073.0,"c":1073.6},
{"t":"2022-07-13T04:45:00Z","o":1074.0,"h":1075.0,"l":1073.2,"c":1073.7},
{"t":"2022-07-13T05:00:00Z","o":1074.0,"h":1075.0,"l":1071.0,"c":1073.0},
{"t":"2022-07-13T05:15:00Z","o":1073.0,"h":1073.4,"l":1069.8,"c":1070.2},
{"t":"2022-07-13T05:30:00Z","o":1070.2,"h":1077.0,"l":1068.6,"c":1074.2},
{"t":"2022-07-13T05:45:00Z","o":1074.2,"h":1075.2,"l":1072.2,"c":1072.6},
{"t":"2022-07-13T06:00:00Z","o":1072.6,"h":1076.0,"l":1072.2,"c":1073.8},
{"t":"2022-07-13T06:15:00Z","o":1073.8,"h":1075.0,"l":1073.0,"c":1074.2},
{"t":"2022-07-13T06:30:00Z","o":1073.8,"h":1079.8,"l":1073.6,"c":1076.6},
{"t":"2022-07-13T06:45:00Z","o":1076.6,"h":1084.6,"l":1075.8,"c":1082.2},
{"t":"2022-07-13T07:00:00Z","o":1082.2,"h":1085.8,"l":1075.8,"c":1077.8},
{"t":"2022-07-13T07:15:00Z","o":1077.8,"h":1104.1,"l":1075.0,"c":1100.5},
{"t":"2022-07-13T07:30:00Z","o":1100.5,"h":1100.6,"l":1013.0,"c":1023.6},
{"t":"2022-07-13T07:45:00Z","o":1023.6,"h":1034.3,"l":1013.0,"c":1029.6},
{"t":"2022-07-13T08:00:00Z","o":1029.6,"h":1040.7,"l":1027.9,"c":1028.1},
{"t":"2022-07-13T08:15:00Z","o":1028.3,"h":1030.3,"l":1019.2,"c":1021.7},
{"t":"2022-07-13T08:30:00Z","o":1021.7,"h":1043.9,"l":1016.4,"c":1037.1},
{"t":"2022-07-13T08:45:00Z","o":1037.1,"h":1046.7,"l":1036.7,"c":1042.1},
{"t":"2022-07-13T09:00:00Z","o":1041.9,"h":1049.1,"l":1038.7,"c":1042.3},
{"t":"2022-07-13T09:15:00Z","o":1042.3,"h":1042.7,"l":1033.5,"c":1037.1},
{"t":"2022-07-13T09:30:00Z","o":1037.1,"h":1061.0,"l":1036.7,"c":1059.7},
{"t":"2022-07-13T09:45:00Z","o":1059.5,"h":1073.0,"l":1058.3,"c":1066.6},
{"t":"2022-07-13T10:00:00Z","o":1066.4,"h":1075.0,"l":1065.4,"c":1069.4},
{"t":"2022-07-13T10:15:00Z","o":1069.4,"h":1069.8,"l":1061.4,"c":1061.9},
{"t":"2022-07-13T10:30:00Z","o":1062.0,"h":1064.2,"l":1057.5,"c":1058.4},
{"t":"2022-07-13T10:45:00Z","o":1058.4,"h":1062.2,"l":1056.7,"c":1060.2},
{"t":"2022-07-13T11:00:00Z","o":1060.5,"h":1061.0,"l":1056.3,"c":1056.8},
{"t":"2022-07-13T11:15:00Z","o":1056.8,"h":1061.0,"l":1049.5,"c":1060.6},
{"t":"2022-07-13T11:30:00Z","o":1060.6,"h":1067.0,"l":1059.5,"c":1066.9},
{"t":"2022-07-13T11:45:00Z","o":1066.9,"h":1073.8,"l":1066.2,"c":1073.4},
{"t":"2022-07-13T12:00:00Z","o":1073.4,"h":1099.1,"l":1072.6,"c":1091.7},
{"t":"2022-07-13T12:15:00Z","o":1091.7,"h":1092.5,"l":1086.2,"c":1090.6},
{"t":"2022-07-13T12:30:00Z","o":1090.2,"h":1095.1,"l":1085.8,"c":1093.6}
],
"header": [{"t": "2022-07-10T01:06:00Z", "p": 1200.36, "label": "Ethereum / TetherUS, 15, BINANCE"}],
"position": [{"t1": "2022-07-13T12:00:00Z", "t2": "2022-07-14T02:15:00Z", "target": 1168.80, "entry": 1083.65, "stop": 1062.15, "last": 1093.62}],
"bos": [
{"t1": "2022-07-11T08:00:00Z", "t2": "2022-07-11T14:45:00Z", "p": 1128.6, "tt": "2022-07-11T10:56:00Z", "tp": 1125.2, "label": "Break of Structure"},
{"t1": "2022-07-12T04:00:00Z", "t2": "2022-07-12T12:55:00Z", "p": 1054.4, "tt": "2022-07-12T08:11:00Z", "tp": 1051.4, "label": "Break of Structure"},
{"t1": "2022-07-12T11:03:00Z", "t2": "2022-07-13T05:45:00Z", "p": 1089.4, "tt": "2022-07-12T20:11:00Z", "tp": 1092.4, "label": "Break of Structure"},
{"t1": "2022-07-12T14:17:00Z", "t2": "2022-07-13T05:32:00Z", "p": 1033.6, "tt": "2022-07-12T21:44:00Z", "tp": 1031.3, "label": "Break of Structure"}
],
"level": [{"t1": "2022-07-10T13:15:00Z", "t2": "2022-07-14T04:15:00Z", "p": 1169.67}],
"tags": [
{"t1": "2022-07-14T04:15:00Z", "t2": "2022-07-14T07:05:00Z", "kind": "unit", "lo": 1201.3, "hi": 1201.3, "tp": 1201.3, "label": "USDT"},
{"t1": "2022-07-14T04:15:00Z", "t2": "2022-07-14T07:05:00Z", "kind": "target line", "lo": 1170.75, "hi": 1173.62, "tp": 1172.18, "label": "1169.67"},
{"t1": "2022-07-14T04:15:00Z", "t2": "2022-07-14T07:05:00Z", "kind": "target", "lo": 1167.94, "hi": 1170.75, "tp": 1169.38, "label": "1168.80"},
{"t1": "2022-07-14T04:15:00Z", "t2": "2022-07-14T07:05:00Z", "kind": "last", "lo": 1089.19, "hi": 1095.58, "tp": 1093.62, "label": "1093.62"},
{"t1": "2022-07-14T04:15:00Z", "t2": "2022-07-14T07:05:00Z", "kind": "countdown", "lo": 1089.19, "hi": 1089.19, "tp": 1090.67, "label": "01:36"},
{"t1": "2022-07-14T04:15:00Z", "t2": "2022-07-14T07:05:00Z", "kind": "entry", "lo": 1082.18, "hi": 1085.36, "tp": 1083.65, "label": "1083.65"},
{"t1": "2022-07-14T04:15:00Z", "t2": "2022-07-14T07:05:00Z", "kind": "stop", "lo": 1060.65, "hi": 1063.99, "tp": 1062.15, "label": "1062.15"}
]
},
"layer": [
{"data": {"name": "position"}, "mark": {"type": "rect", "fill": "#d4efe9", "clip": true},
 "encoding": {
  "x": {"field": "t1", "type": "temporal", "title": null,
        "scale": {"type": "utc", "domain": [1657415160000, 1657772100000]},
        "axis": {"orient": "bottom", "domain": false, "ticks": false, "tickSize": 0, "grid": false, "labelPadding": 6, "labelFontSize": 11, "labelColor": "#6a6d78", "labelFont": "Roboto", "values": [1657432800000, 1657454400000, 1657476000000, 1657497600000, 1657519200000, 1657540800000, 1657562400000, 1657584000000, 1657605600000, 1657627200000, 1657648800000, 1657670400000, 1657692000000, 1657713600000, 1657735200000, 1657756800000], "labelExpr": "utcFormat(datum.value, '%H') == '00' ? utcFormat(datum.value, '%d') : utcFormat(datum.value, '%H:%M')", "labelOverlap": false, "labelFlush": false, "title": null}},
  "x2": {"field": "t2"},
  "y": {"field": "entry", "type": "quantitative", "title": null,
        "scale": {"domain": [1014.47, 1204.19], "zero": false, "nice": false},
        "axis": {"orient": "right", "domain": false, "ticks": false, "tickSize": 0, "grid": true, "gridColor": "#f0f3fa", "gridWidth": 1, "values": [1020, 1030, 1040, 1050, 1060, 1070, 1080, 1100, 1110, 1120, 1130, 1140, 1150, 1160, 1180, 1190], "format": ".2f", "labelPadding": 9, "labelFontSize": 11, "labelColor": "#6a6d78", "labelFont": "Roboto", "title": null}},
  "y2": {"field": "target"}}},
{"data": {"name": "position"}, "mark": {"type": "rect", "fill": "#b3e3dc", "clip": true},
 "encoding": {"x": {"field": "t1", "type": "temporal", "title": null}, "x2": {"field": "t2"}, "y": {"field": "entry", "type": "quantitative", "title": null}, "y2": {"field": "last"}}},
{"data": {"name": "position"}, "mark": {"type": "rect", "fill": "#fbdadd", "clip": true},
 "encoding": {"x": {"field": "t1", "type": "temporal", "title": null}, "x2": {"field": "t2"}, "y": {"field": "stop", "type": "quantitative", "title": null}, "y2": {"field": "entry"}}},
{"data": {"name": "position"}, "mark": {"type": "rule", "stroke": "#7c7f88", "strokeWidth": 1.2, "clip": true},
 "encoding": {"x": {"field": "t1", "type": "temporal", "title": null}, "x2": {"field": "t2"}, "y": {"field": "entry", "type": "quantitative", "title": null}}},
{"data": {"name": "level"}, "mark": {"type": "rule", "stroke": "#000000", "strokeWidth": 1.5, "clip": true},
 "encoding": {"x": {"field": "t1", "type": "temporal", "title": null}, "x2": {"field": "t2"}, "y": {"field": "p", "type": "quantitative", "title": null}}},
{"data": {"name": "position"}, "mark": {"type": "rule", "stroke": "#1f3591", "strokeWidth": 1, "strokeDash": [1, 2.5]},
 "encoding": {"y": {"field": "last", "type": "quantitative", "title": null}}},
{"data": {"name": "candles"}, "mark": {"type": "rule", "strokeWidth": 1, "clip": true},
 "encoding": {"x": {"field": "t", "type": "temporal", "title": null}, "y": {"field": "l", "type": "quantitative", "title": null}, "y2": {"field": "h"},
  "stroke": {"condition": {"test": "datum.c >= datum.o", "value": "#808080"}, "value": "#2f50d0"}}},
{"data": {"name": "candles"}, "mark": {"type": "bar", "width": 2.6, "strokeWidth": 1, "clip": true},
 "encoding": {"x": {"field": "t", "type": "temporal", "title": null}, "y": {"field": "o", "type": "quantitative", "title": null}, "y2": {"field": "c"},
  "fill": {"condition": {"test": "datum.c >= datum.o", "value": "#ffffff"}, "value": "#2f50d0"},
  "stroke": {"condition": {"test": "datum.c >= datum.o", "value": "#808080"}, "value": "#2f50d0"}}},
{"data": {"name": "bos"}, "mark": {"type": "rule", "stroke": "#2a2e39", "strokeWidth": 1, "clip": true},
 "encoding": {"x": {"field": "t1", "type": "temporal", "title": null}, "x2": {"field": "t2"}, "y": {"field": "p", "type": "quantitative", "title": null}}},
{"data": {"name": "bos"}, "mark": {"type": "text", "font": "Noto Sans", "fontStyle": "italic", "fontSize": 14.5, "color": "#3d63dd", "align": "center", "baseline": "middle"},
 "encoding": {"x": {"field": "tt", "type": "temporal", "title": null}, "y": {"field": "tp", "type": "quantitative", "title": null}, "text": {"field": "label"}}},
{"data": {"name": "header"}, "mark": {"type": "text", "font": "Roboto", "fontSize": 13.5, "color": "#555555", "align": "left", "baseline": "middle", "dx": 7, "clip": false},
 "encoding": {"x": {"field": "t", "type": "temporal", "title": null}, "y": {"field": "p", "type": "quantitative", "title": null}, "text": {"field": "label"}}},
{"data": {"name": "tags"}, "mark": {"type": "rect", "clip": false},
 "encoding": {"x": {"field": "t1", "type": "temporal", "title": null}, "x2": {"field": "t2"}, "y": {"field": "lo", "type": "quantitative", "title": null}, "y2": {"field": "hi"},
  "fill": {"field": "kind", "type": "nominal", "legend": null, "scale": {"domain": ["unit", "target line", "target", "last", "countdown", "entry", "stop"], "range": ["#ffffff", "#000000", "#62c9b0", "#0c339b", "#0c339b", "#787b86", "#f23645"]}}}},
{"data": {"name": "tags"}, "mark": {"type": "text", "align": "left", "baseline": "middle", "dx": 9, "clip": false},
 "encoding": {"x": {"field": "t1", "type": "temporal", "title": null}, "y": {"field": "tp", "type": "quantitative", "title": null}, "text": {"field": "label"},
  "color": {"field": "kind", "type": "nominal", "legend": null, "scale": {"domain": ["unit", "target line", "target", "last", "countdown", "entry", "stop"], "range": ["#6a6d78", "#ffffff", "#24403a", "#ffffff", "#dfe6ff", "#ffffff", "#ffffff"]}},
  "size": {"condition": {"test": "datum.kind == 'unit'", "value": 10}, "value": 11},
  "fontWeight": {"condition": {"test": "datum.kind == 'target' || datum.kind == 'countdown' || datum.kind == 'unit'", "value": "normal"}, "value": "bold"}}}
]
}
